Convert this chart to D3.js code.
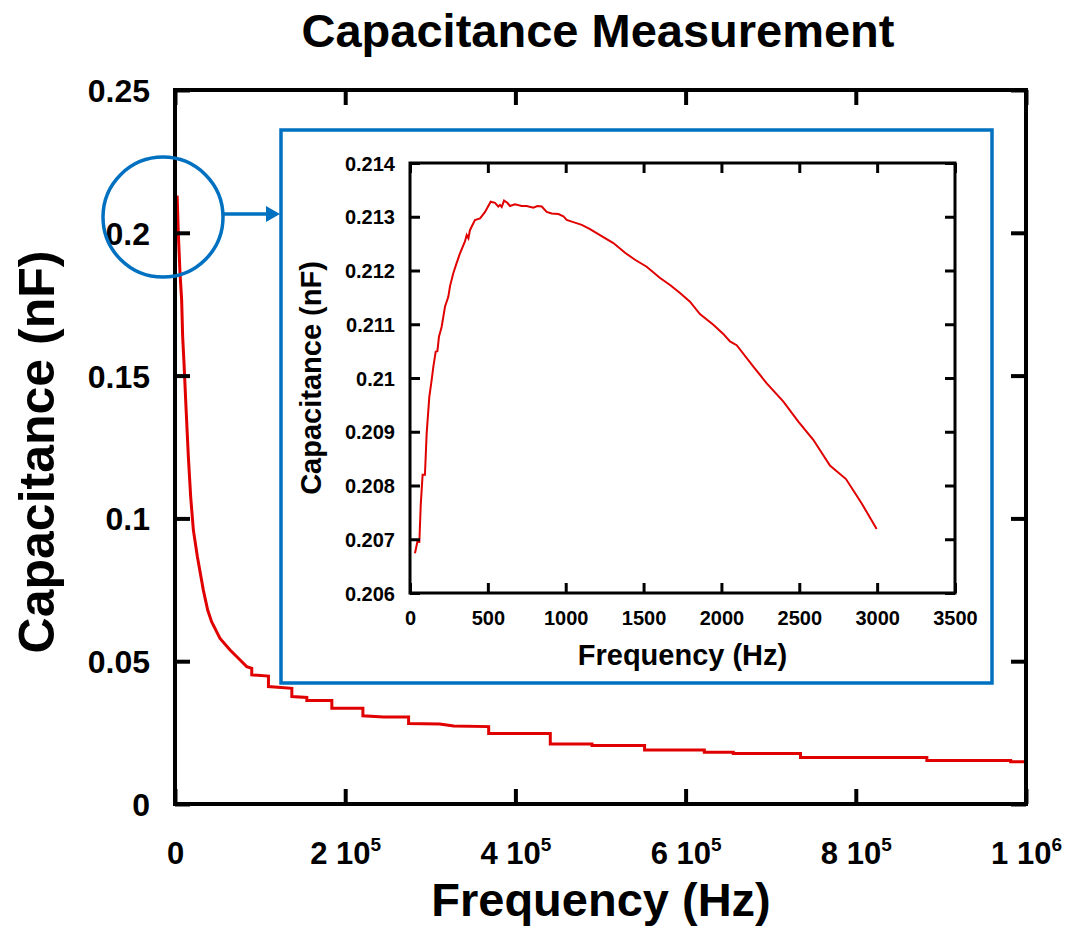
<!DOCTYPE html>
<html>
<head>
<meta charset="utf-8">
<script src="https://cdn.jsdelivr.net/npm/d3@7"></script>
<style>
  html, body { margin: 0; padding: 0; background: #fff; }
  svg { display: block; font-family: "Liberation Sans", Arial, Helvetica, sans-serif; font-weight: bold; }
</style>
</head>
<body>
<svg id="chart" width="1072" height="933"></svg>
<script>
// ---- Main sweep: frequency (Hz) vs capacitance (nF) ----
const mainFreq = [2500, 3900, 5900, 7800, 9000, 10600, 12900, 15700, 18400, 21600, 26300, 33300, 38400, 43000,
  52900, 64700, 76500, 84300, 90200, 90200, 109800, 109800, 137300, 137300, 154900, 154900, 184300, 184300,
  220800, 220800, 245000, 274500, 274500, 311000, 327500, 368600, 368600, 441000, 441000, 490000, 490000,
  551800, 551800, 622000, 622000, 656000, 656000, 735000, 735000, 883500, 883500, 982000, 982000, 1000000];
const mainCap = [0.2130, 0.1998, 0.1858, 0.1765, 0.1636, 0.1543, 0.1391, 0.1216, 0.1076, 0.0959, 0.0866, 0.0749, 0.0679, 0.0638,
  0.0580, 0.0539, 0.0504, 0.0481, 0.0475, 0.0452, 0.0448, 0.0411, 0.0405, 0.0376, 0.0373, 0.0362, 0.0362, 0.0335,
  0.0335, 0.0309, 0.0305, 0.0305, 0.0282, 0.0280, 0.0273, 0.0271, 0.0247, 0.0247, 0.0210, 0.0210, 0.0205,
  0.0205, 0.0189, 0.0189, 0.0181, 0.0181, 0.0177, 0.0177, 0.0163, 0.0163, 0.0152, 0.0152, 0.0148, 0.0148];

// ---- Low-frequency detail (inset) ----
const insetFreq = [32, 47, 60, 69, 81, 96, 107, 124, 139, 150, 165, 176, 186, 203, 225, 246, 257, 278, 295, 321,
  353, 364, 375, 385, 417, 450, 482, 518, 546, 567, 578, 589, 604, 625, 642, 674, 717, 749, 792, 818, 846, 878,
  910, 953, 985, 1006, 1049, 1103, 1156, 1220, 1306, 1381, 1445, 1520, 1606, 1670, 1734, 1798, 1862, 1948, 2012,
  2055, 2098, 2205, 2291, 2398, 2494, 2590, 2697, 2800, 2900, 2997];
const insetCap = [0.20674, 0.20695, 0.20695, 0.20764, 0.20820, 0.20820, 0.20897, 0.20965, 0.20996, 0.21021, 0.21049,
  0.21050, 0.21077, 0.21095, 0.21133, 0.21151, 0.21171, 0.21195, 0.21210, 0.21232, 0.21254, 0.21266, 0.21260,
  0.21275, 0.21294, 0.21297, 0.21309, 0.21328, 0.21326, 0.21319, 0.21322, 0.21318, 0.21330, 0.21326, 0.21320,
  0.21323, 0.21320, 0.21320, 0.21317, 0.21320, 0.21319, 0.21309, 0.21306, 0.21305, 0.21301, 0.21294, 0.21290,
  0.21285, 0.21277, 0.21266, 0.21251, 0.21233, 0.21220, 0.21207, 0.21186, 0.21173, 0.21158, 0.21142, 0.21119,
  0.21099, 0.21082, 0.21068, 0.21061, 0.21021, 0.20990, 0.20956, 0.20919, 0.20885, 0.20837, 0.20812, 0.20767,
  0.20719];

// ---- Tick values and labels ----
const mainXTicks = [0, 200000, 400000, 600000, 800000, 1000000];
const mainXTickBase = ["0", "2 10", "4 10", "6 10", "8 10", "1 10"];
const mainXTickExp = ["", "5", "5", "5", "5", "6"];
const mainYTicks = [0, 0.05, 0.1, 0.15, 0.2, 0.25];
const mainYTickLabels = ["0", "0.05", "0.1", "0.15", "0.2", "0.25"];
const insetXTicks = [0, 500, 1000, 1500, 2000, 2500, 3000, 3500];
const insetXTickLabels = ["0", "500", "1000", "1500", "2000", "2500", "3000", "3500"];
const insetYTicks = [0.206, 0.207, 0.208, 0.209, 0.21, 0.211, 0.212, 0.213, 0.214];
const insetYTickLabels = ["0.206", "0.207", "0.208", "0.209", "0.21", "0.211", "0.212", "0.213", "0.214"];

const RED = "#e00000";
const BLUE = "#0070c0";

const svg = d3.select("#chart");

// Scales
const x = d3.scaleLinear().domain([0, 1e6]).range([175, 1026]);
const y = d3.scaleLinear().domain([0, 0.25]).range([804, 90]);
const ix = d3.scaleLinear().domain([0, 3500]).range([410, 955]);
const iy = d3.scaleLinear().domain([0.206, 0.214]).range([593, 163]);

function cleanAxis(g, w) {
  g.select(".domain").remove();
  g.selectAll(".tick line").attr("stroke", "#000").attr("stroke-width", w);
}

// ---------- Main plot ----------
svg.append("text")
  .attr("x", 598).attr("y", 47)
  .attr("text-anchor", "middle")
  .attr("font-size", 47)
  .text("Capacitance Measurement");

const mainLine = d3.line().x(i => x(mainFreq[i])).y(i => y(mainCap[i]));
svg.append("path")
  .attr("d", mainLine(d3.range(mainFreq.length)))
  .attr("fill", "none").attr("stroke", RED).attr("stroke-width", 3)
  .attr("stroke-linejoin", "miter");

// bottom axis with ticks pointing inward
svg.append("g").attr("transform", `translate(0,${y(0)})`)
  .call(d3.axisBottom(x).tickValues(mainXTicks).tickSizeInner(-15).tickSizeOuter(0).tickFormat(""))
  .call(g => cleanAxis(g, 4))
  .call(g => g.selectAll(".tick").each(function (d, i) {
    const t = d3.select(this).append("text")
      .attr("y", 60).attr("fill", "#000")
      .attr("text-anchor", "middle").attr("font-size", 31);
    t.append("tspan").text(mainXTickBase[i]);
    if (mainXTickExp[i]) {
      t.append("tspan").attr("dy", -13).attr("font-size", 19).text(mainXTickExp[i]);
    }
  }));

svg.append("g").attr("transform", `translate(0,${y(0.25)})`)
  .call(d3.axisTop(x).tickValues(mainXTicks).tickSizeInner(-15).tickSizeOuter(0).tickFormat(""))
  .call(g => cleanAxis(g, 4));

svg.append("g").attr("transform", `translate(${x(0)},0)`)
  .call(d3.axisLeft(y).tickValues(mainYTicks).tickSizeInner(-15).tickSizeOuter(0).tickPadding(25)
    .tickFormat((d, i) => mainYTickLabels[i]))
  .call(g => cleanAxis(g, 4))
  .call(g => g.selectAll("text").attr("font-size", 32).attr("fill", "#000")
    .attr("font-family", null).attr("dy", "0.36em"));

svg.append("g").attr("transform", `translate(${x(1e6)},0)`)
  .call(d3.axisRight(y).tickValues(mainYTicks).tickSizeInner(-15).tickSizeOuter(0).tickFormat(""))
  .call(g => cleanAxis(g, 4));

svg.append("rect")
  .attr("x", x(0)).attr("y", y(0.25))
  .attr("width", x(1e6) - x(0)).attr("height", y(0) - y(0.25))
  .attr("fill", "none").attr("stroke", "#000").attr("stroke-width", 4);

svg.append("text")
  .attr("x", 601).attr("y", 916)
  .attr("text-anchor", "middle").attr("font-size", 47)
  .text("Frequency (Hz)");

svg.append("text")
  .attr("transform", "translate(54,452) rotate(-90)")
  .attr("text-anchor", "middle").attr("font-size", 50)
  .text("Capacitance (nF)");

// ---------- Zoom callout ----------
const circ = { cx: x(0) - 12, cy: y(0.2055), r: 60 };
svg.append("circle")
  .attr("cx", circ.cx).attr("cy", circ.cy).attr("r", circ.r)
  .attr("fill", "none").attr("stroke", BLUE).attr("stroke-width", 3.5);

const box = { x: 281, y: 130, w: 711, h: 553 };
const arrowY = 214;
svg.append("line")
  .attr("x1", circ.cx + circ.r).attr("y1", arrowY)
  .attr("x2", box.x - 12).attr("y2", arrowY)
  .attr("stroke", BLUE).attr("stroke-width", 3.5);
svg.append("path")
  .attr("d", `M${box.x - 1},${arrowY} L${box.x - 15},${arrowY - 8} L${box.x - 15},${arrowY + 8} Z`)
  .attr("fill", BLUE);

svg.append("rect")
  .attr("x", box.x).attr("y", box.y).attr("width", box.w).attr("height", box.h)
  .attr("fill", "#fff").attr("stroke", BLUE).attr("stroke-width", 3.5);

// ---------- Inset plot ----------
const insetLine = d3.line().x(i => ix(insetFreq[i])).y(i => iy(insetCap[i]));
svg.append("path")
  .attr("d", insetLine(d3.range(insetFreq.length)))
  .attr("fill", "none").attr("stroke", RED).attr("stroke-width", 2);

svg.append("g").attr("transform", `translate(0,${iy(0.206)})`)
  .call(d3.axisBottom(ix).tickValues(insetXTicks).tickSizeInner(-10).tickSizeOuter(0).tickPadding(18)
    .tickFormat((d, i) => insetXTickLabels[i]))
  .call(g => cleanAxis(g, 3))
  .call(g => g.selectAll("text").attr("font-size", 20).attr("fill", "#000").attr("font-family", null));

svg.append("g").attr("transform", `translate(0,${iy(0.214)})`)
  .call(d3.axisTop(ix).tickValues(insetXTicks).tickSizeInner(-10).tickSizeOuter(0).tickFormat(""))
  .call(g => cleanAxis(g, 3));

svg.append("g").attr("transform", `translate(${ix(0)},0)`)
  .call(d3.axisLeft(iy).tickValues(insetYTicks).tickSizeInner(-10).tickSizeOuter(0).tickPadding(15)
    .tickFormat((d, i) => insetYTickLabels[i]))
  .call(g => cleanAxis(g, 3))
  .call(g => g.selectAll("text").attr("font-size", 20).attr("fill", "#000")
    .attr("font-family", null).attr("dy", "0.36em"));

svg.append("g").attr("transform", `translate(${ix(3500)},0)`)
  .call(d3.axisRight(iy).tickValues(insetYTicks).tickSizeInner(-10).tickSizeOuter(0).tickFormat(""))
  .call(g => cleanAxis(g, 3));

svg.append("rect")
  .attr("x", ix(0)).attr("y", iy(0.214))
  .attr("width", ix(3500) - ix(0)).attr("height", iy(0.206) - iy(0.214))
  .attr("fill", "none").attr("stroke", "#000").attr("stroke-width", 3);

svg.append("text")
  .attr("x", (ix(0) + ix(3500)) / 2).attr("y", 665)
  .attr("text-anchor", "middle").attr("font-size", 29)
  .text("Frequency (Hz)");

svg.append("text")
  .attr("transform", `translate(321,${(iy(0.206) + iy(0.214)) / 2}) rotate(-90)`)
  .attr("text-anchor", "middle").attr("font-size", 29)
  .text("Capacitance (nF)");
</script>
</body>
</html>
